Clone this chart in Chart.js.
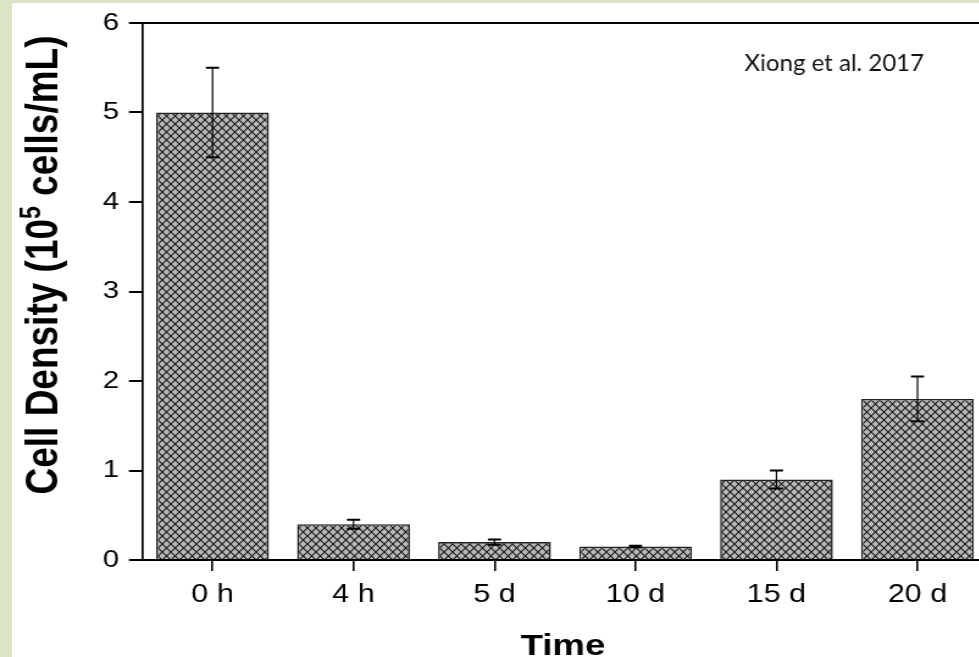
<!DOCTYPE html>
<html>
<head>
<meta charset="utf-8">
<script src="https://cdn.jsdelivr.net/npm/chart.js@4/dist/chart.umd.min.js"></script>
<style>
  html, body { margin: 0; padding: 0; width: 979px; height: 657px; overflow: hidden; background: #dbe5c6; }
  .paper { position: absolute; left: 12px; top: 3px; width: 967px; height: 654px; background: #fff; }
  .stretch { position: absolute; left: 0; top: 0; width: 820px; height: 657px; transform: scaleX(1.22); transform-origin: 0 0; }
</style>
</head>
<body>
<div class="paper"></div>
<div class="stretch"><canvas class="cell-chart"></canvas></div>
<script>
const categories = ["0 h", "4 h", "5 d", "10 d", "15 d", "20 d"];
const density = [5.0, 0.4, 0.2, 0.15, 0.9, 1.8];
const densityErr = [0.5, 0.05, 0.03, 0.01, 0.1, 0.25];
const yTicks = [0, 1, 2, 3, 4, 5, 6];

// the original figure is stretched sideways, so the whole canvas is too
const S = 1.22;
const FONT = "'Liberation Sans', Arial, sans-serif";

function hatch() {
  const c = document.createElement("canvas");
  c.width = 7;
  c.height = 8;
  const g = c.getContext("2d");
  g.fillStyle = "#b9b9b9";
  g.fillRect(0, 0, 7, 8);
  g.strokeStyle = "#151515";
  g.lineWidth = 1.1;
  g.beginPath();
  g.moveTo(0, 0); g.lineTo(7, 8);
  g.moveTo(7, 0); g.lineTo(0, 8);
  g.stroke();
  return g.createPattern(c, "repeat");
}

const errorBars = {
  id: "errorBars",
  afterDatasetsDraw(chart) {
    const ctx = chart.ctx;
    const y = chart.scales.y;
    ctx.save();
    ctx.strokeStyle = "#000";
    chart.getDatasetMeta(0).data.forEach((bar, i) => {
      const top = y.getPixelForValue(density[i] + densityErr[i]);
      const bot = y.getPixelForValue(density[i] - densityErr[i]);
      ctx.lineWidth = 1.2;
      ctx.beginPath();
      ctx.moveTo(bar.x, top); ctx.lineTo(bar.x, bot);
      ctx.stroke();
      ctx.lineWidth = 2;
      ctx.beginPath();
      ctx.moveTo(bar.x - 5.4, top); ctx.lineTo(bar.x + 5.4, top);
      ctx.moveTo(bar.x - 5.4, bot); ctx.lineTo(bar.x + 5.4, bot);
      ctx.stroke();
    });
    ctx.restore();
  }
};

const frameAndText = {
  id: "frameAndText",
  afterDraw(chart) {
    const ctx = chart.ctx;
    const area = chart.chartArea;
    ctx.save();
    // top frame line
    ctx.strokeStyle = "#000";
    ctx.lineWidth = 2;
    ctx.beginPath();
    ctx.moveTo(area.left, area.top); ctx.lineTo(chart.width, area.top);
    ctx.stroke();

    ctx.fillStyle = "#000";
    // x title
    ctx.font = "bold 30px " + FONT;
    ctx.textAlign = "center";
    ctx.textBaseline = "alphabetic";
    ctx.fillText("Time", 563 / S, 655);

    // y title with superscript
    const big = "bold 37px " + FONT;
    const small = "bold 23px " + FONT;
    const parts = [["Cell Density (10", big, 0], ["5", small, -14], [" cells/mL)", big, 0]];
    let total = 0;
    parts.forEach(p => { ctx.font = p[1]; total += ctx.measureText(p[0]).width; });
    ctx.translate(57 / S, 265);
    ctx.rotate(-Math.PI / 2);
    ctx.textAlign = "left";
    let x = -total / 2;
    parts.forEach(p => {
      ctx.font = p[1];
      ctx.fillText(p[0], x, p[2]);
      x += ctx.measureText(p[0]).width;
    });
    ctx.restore();

    // source note, drawn unstretched
    ctx.save();
    ctx.scale(1 / S, 1);
    ctx.fillStyle = "#111";
    ctx.font = "24px Lato, 'Open Sans', sans-serif";
    ctx.textAlign = "right";
    ctx.textBaseline = "alphabetic";
    ctx.fillText("Xiong et al. 2017", 924, 71);
    ctx.restore();
  }
};

const ctx = document.querySelector(".cell-chart").getContext("2d");

new Chart(ctx, {
  type: "bar",
  data: {
    labels: categories,
    datasets: [
      {
        data: density,
        backgroundColor: hatch(),
        borderColor: "#222",
        borderWidth: 1.6,
        barPercentage: 0.8,
        categoryPercentage: 1,
      },
    ],
  },
  options: {
    responsive: true,
    maintainAspectRatio: false,
    animation: false,
    layout: { padding: { left: 0, top: 23, right: 10.2, bottom: 0 } },
    plugins: { legend: { display: false }, tooltip: { enabled: false } },
    scales: {
      x: {
        offset: true,
        grid: { offset: false, drawOnChartArea: false, drawTicks: true, tickLength: 11, color: "#000", lineWidth: 1.6 },
        border: { display: true, color: "#000", width: 2 },
        ticks: { color: "#000", font: { family: FONT, size: 25 }, padding: 9, maxRotation: 0 },
        afterFit: (s) => { s.height = 97; },
      },
      y: {
        min: 0,
        max: 6,
        afterBuildTicks: (s) => { s.ticks = yTicks.map(v => ({ value: v })); },
        grid: { drawOnChartArea: false, drawTicks: true, tickLength: 10.7, color: "#000", lineWidth: 2 },
        border: { display: true, color: "#000", width: 1.7 },
        ticks: { color: "#000", font: { family: FONT, size: 24 }, padding: 8 },
        afterFit: (s) => { s.width = 116.4; },
      },
    },
  },
  plugins: [errorBars, frameAndText],
});
</script>
</body>
</html>
